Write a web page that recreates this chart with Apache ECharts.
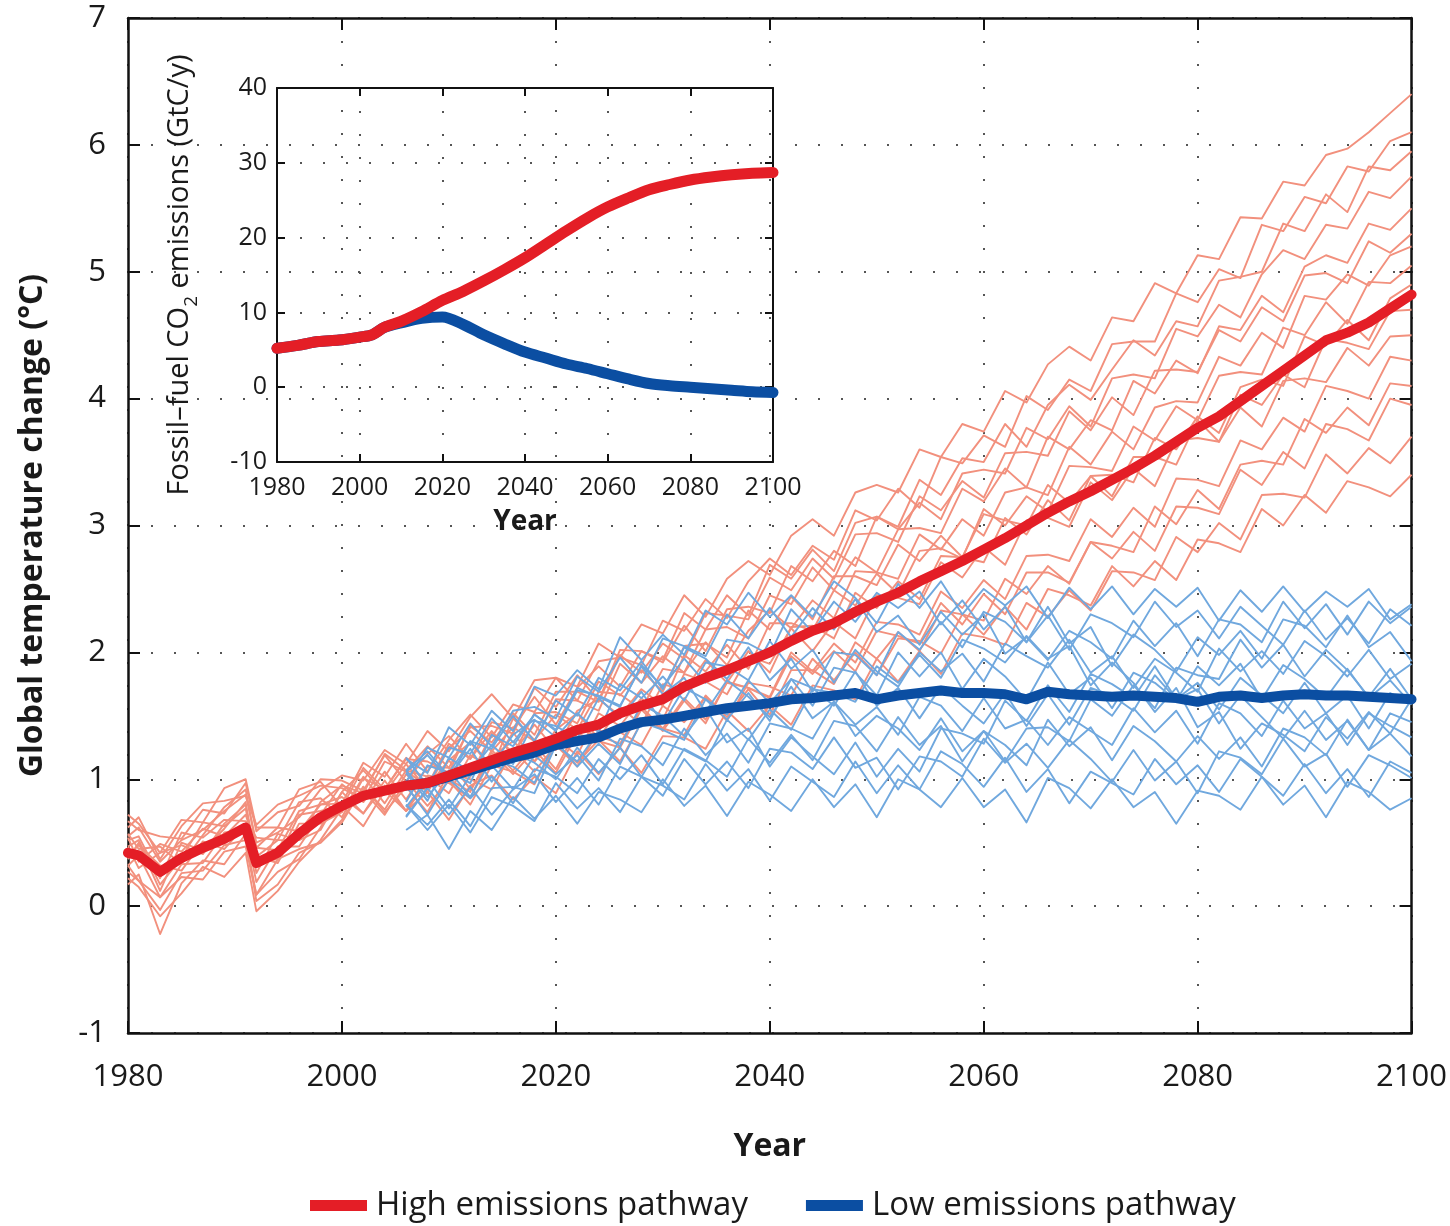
<!DOCTYPE html>
<html>
<head>
<meta charset="utf-8">
<script src="https://cdn.jsdelivr.net/npm/echarts@6/dist/echarts.min.js"></script>
<style>
html,body{margin:0;padding:0;background:#fff;}
#chart{width:1450px;height:1226px;}
</style>
</head>
<body>
<div id="chart"></div>
<script>
// ---------------- DATA ----------------
const redYears = [1980,1981,1983,1985,1987,1989,1991,1992,1994,1996,1998,
  2000,2002,2004,2006,2008,2010,2012,2014,2016,2018,2020,2022,2024,2026,2028,2030,
  2032,2034,2036,2038,2040,2042,2044,2046,2048,2050,2052,2054,2056,2058,2060,
  2062,2064,2066,2068,2070,2072,2074,2076,2078,2080,2082,2084,2086,2088,2090,
  2092,2094,2096,2098,2100];

const redMean = [.42,.40,.27,.38,.46,.53,.62,.34,.42,.57,.70,
  .79,.87,.91,.95,.97,1.03,1.09,1.15,1.21,1.26,
  1.32,1.39,1.43,1.52,1.58,1.63,1.73,1.80,1.86,1.93,
  2.00,2.09,2.17,2.23,2.32,2.40,2.47,2.56,2.64,2.72,
  2.81,2.90,3.00,3.10,3.19,3.27,3.36,3.45,3.55,3.66,
  3.77,3.86,3.98,4.10,4.22,4.34,4.46,4.52,4.60,4.71,4.82];

const redRuns = [
  [.55,.62,.35,.52,.60,.75,.88,.50,.58,.70,.92, 1.03,.99,1.23,1.12,1.38,1.22,1.49,1.67,1.48,1.78, 1.80,1.73,2.07,1.96,2.22,2.15,2.45,2.28,2.58,2.72, 2.61,2.92,3.05,2.92,3.26,3.32,3.26,3.60,3.54,3.80, 3.74,4.06,3.97,4.27,4.41,4.30,4.64,4.61,4.91,4.83, 5.13,5.10,5.43,5.42,5.71,5.68,5.92,5.97,6.10,6.25,6.40],
  [.57,.45,.47,.33,.56,.78,.92,.46,.44,.75,.80, .81,1.13,1.02,1.28,1.06,1.31,1.51,1.33,1.59,1.53, 1.80,1.62,1.93,1.96,1.90,2.25,2.17,2.42,2.27,2.56, 2.74,2.61,2.84,2.73,3.12,3.04,3.29,3.14,3.54,3.49, 3.71,3.62,4.02,3.91,4.15,4.06,4.43,4.45,4.45,4.83, 4.76,5.02,4.95,5.37,5.32,5.59,5.54,5.83,5.79,6.03,6.10],
  [.37,.50,.12,.50,.44,.61,.82,.26,.57,.52,.82, .95,.89,1.20,1.07,1.26,1.09,1.41,1.42,1.36,1.72, 1.57,1.82,1.62,2.02,2.01,1.94,2.31,2.18,2.45,2.29, 2.69,2.58,2.81,2.64,3.02,3.07,2.99,3.36,3.24,3.53, 3.50,3.80,3.62,3.95,4.11,3.99,4.23,4.46,4.34,4.61, 4.57,4.93,4.96,5.00,5.38,5.32,5.61,5.47,5.83,5.80,5.95],
  [.67,.60,.55,.53,.76,.73,.97,.59,.74,.79,1.00, .99,.91,1.19,.98,1.20,1.34,1.16,1.45,1.40,1.65, 1.43,1.72,1.89,1.73,2.01,1.92,2.21,2.01,2.34,2.36, 2.31,2.68,2.56,2.80,2.68,3.07,2.97,3.18,3.05,3.41, 3.44,3.41,3.77,3.68,3.94,3.78,4.16,4.19,4.16,4.55, 4.49,4.74,4.64,4.98,5.17,5.10,5.37,5.34,5.63,5.58,5.75],
  [.27,.20,-.03,.26,.28,.48,.52,.09,.27,.37,.62, .90,1.07,.89,1.12,.92,1.25,1.38,1.22,1.41,1.30, 1.63,1.62,1.54,1.91,1.76,1.97,1.84,2.18,2.20,2.11, 2.45,2.38,2.67,2.49,2.75,2.63,2.97,2.98,2.94,3.29, 3.19,3.45,3.30,3.70,3.60,3.83,3.75,4.14,4.04,4.30, 4.20,4.57,4.54,4.81,4.68,5.04,5.13,5.07,5.38,5.33,5.50],
  [.52,.55,.22,.58,.54,.68,.67,.54,.52,.82,.85, .70,1.01,.92,1.17,.94,1.15,1.29,1.09,1.48,1.31, 1.51,1.39,1.69,1.67,1.55,1.87,1.84,2.08,1.90,2.17, 2.33,2.19,2.41,2.27,2.64,2.63,2.58,2.93,2.81,3.05, 2.92,3.26,3.30,3.24,3.62,3.48,3.74,3.60,3.93,3.98, 3.97,4.33,4.26,4.52,4.40,4.81,4.78,4.98,4.89,5.13,5.20],
  [.32,.40,.07,.33,.34,.58,.60,.19,.47,.47,.72, .96,.82,1.06,.84,1.10,1.09,1.02,1.36,1.21,1.43, 1.23,1.54,1.63,1.50,1.71,1.58,1.98,1.85,2.06,1.87, 2.23,2.23,2.17,2.49,2.37,2.62,2.46,2.80,2.82,2.74, 3.13,3.00,3.23,3.11,3.47,3.46,3.43,3.78,3.67,3.94, 3.83,4.18,4.21,4.19,4.56,4.50,4.76,4.59,4.92,4.91,5.05],
  [.47,.30,.42,.48,.41,.65,.80,.39,.34,.65,.65, .74,1.02,.81,1.07,1.02,.89,1.19,1.09,1.37,1.14, 1.39,1.52,1.32,1.57,1.43,1.75,1.70,1.94,1.76,2.01, 1.84,2.20,2.21,2.11,2.47,2.35,2.56,2.42,2.76,2.75, 2.71,3.06,2.93,3.20,3.04,3.39,3.40,3.34,3.69,3.60, 3.86,3.73,4.09,4.15,4.10,4.49,4.42,4.62,4.46,4.79,4.90],
  [.17,.25,-.22,.18,.36,.33,.57,.04,.17,.42,.50, .68,.94,.76,1.04,.90,1.15,.92,1.18,1.30,1.14, 1.32,1.19,1.52,1.42,1.64,1.47,1.83,1.77,1.67,1.97, 1.91,2.19,2.01,2.24,2.11,2.45,2.43,2.38,2.71,2.59, 2.83,2.69,3.04,3.06,2.99,3.34,3.20,3.45,3.31,3.67, 3.69,3.66,4.03,3.95,4.19,4.09,4.47,4.44,4.39,4.69,4.70],
  [.62,.70,.37,.63,.81,.83,.87,.64,.80,.87,.95, .93,.84,1.14,1.06,.95,1.28,1.16,1.38,1.19,1.52, 1.53,1.44,1.77,1.66,1.86,1.69,2.05,2.07,1.96,2.33, 2.18,2.44,2.26,2.60,2.60,2.53,2.85,2.72,2.92,2.75, 3.09,3.04,3.00,3.32,3.18,3.39,3.23,3.54,3.54,3.48, 3.83,3.66,3.93,3.78,4.14,4.16,4.13,4.40,4.26,4.49,4.50],
  [.54,.35,.49,.43,.61,.55,.72,.46,.62,.59,.80, .86,.73,.99,.75,.98,.97,.85,1.21,1.04,1.23, 1.05,1.36,1.30,1.25,1.55,1.38,1.62,1.44,1.77,1.72, 1.65,2.00,1.85,2.07,1.92,2.24,2.22,2.14,2.48,2.35, 2.57,2.42,2.76,2.77,2.72,3.05,2.91,3.14,2.99,3.37, 3.36,3.31,3.67,3.60,3.85,3.74,4.10,4.06,4.00,4.33,4.30],
  [.22,.15,-.08,.10,.31,.23,.42,-.04,.12,.35,.52, .77,.91,.72,.99,.79,.99,.80,1.11,1.06,.96, 1.28,1.13,1.31,1.14,1.45,1.40,1.35,1.66,1.49,1.71, 1.51,1.86,1.86,1.75,2.08,1.95,2.16,2.01,2.33,2.30, 2.25,2.58,2.46,2.68,2.54,2.87,2.84,2.79,3.15,3.01, 3.28,3.13,3.48,3.51,3.48,3.84,3.73,3.93,3.79,4.12,4.10],
  [.47,.52,.17,.38,.66,.63,.77,.34,.37,.72,.75, .79,.63,.91,.75,.90,.68,.95,1.03,.84,1.02, .89,1.22,1.04,1.25,1.05,1.34,1.33,1.24,1.54,1.38, 1.58,1.43,1.74,1.70,1.63,1.95,1.77,2.01,1.83,2.15, 2.12,2.06,2.39,2.28,2.49,2.33,2.64,2.63,2.57,2.91, 2.79,3.02,2.89,3.24,3.25,3.22,3.56,3.41,3.61,3.49,3.70],
  [.32,.20,.07,.23,.21,.43,.47,.09,.37,.45,.50, .66,.94,.74,.94,.74,1.05,1.00,.92,1.23,1.06, 1.27,1.10,1.38,1.37,1.27,1.58,1.45,1.65,1.46,1.76, 1.73,1.66,1.95,1.78,2.00,1.82,2.11,2.09,1.99,2.30, 2.14,2.36,2.18,2.50,2.45,2.37,2.68,2.52,2.72,2.57, 2.89,2.86,2.79,3.13,3.00,3.24,3.10,3.35,3.30,3.23,3.40],
  [.72,.65,.42,.68,.66,.93,1.00,.62,.62,.92,.98, .78,1.09,.92,1.16,1.14,1.05,1.42,1.29,1.52,1.35, 1.69,1.69,1.61,1.98,1.84,2.07,1.95,2.31,2.29,2.26, 2.59,2.49,2.74,2.58,2.93,2.94,2.87,3.23,3.12,3.35, 3.22,3.57,3.58,3.55,3.90,3.75,4.01,3.87,4.22,4.23, 4.21,4.54,4.45,4.72,4.61,4.97,4.99,4.91,5.24,5.15,5.30],
  [.40,.48,.32,.28,.51,.45,.64,.39,.52,.52,.60, .90,.73,.95,.75,1.03,1.00,.90,1.23,1.07,1.27, 1.08,1.40,1.34,1.28,1.57,1.40,1.64,1.47,1.76,1.72, 1.64,1.97,1.83,2.01,1.85,2.17,2.13,2.07,2.39,2.22, 2.46,2.30,2.63,2.63,2.55,2.87,2.74,2.95,2.80,3.15, 3.14,3.09,3.44,3.32,3.58,3.45,3.80,3.76,3.67,4.00,3.95]
];

const blueYears = [2006,2008,2010,2012,2014,2016,2018,2020,2022,2024,2026,2028,2030,
  2032,2034,2036,2038,2040,2042,2044,2046,2048,2050,2052,2054,2056,2058,2060,
  2062,2064,2066,2068,2070,2072,2074,2076,2078,2080,2082,2084,2086,2088,2090,
  2092,2094,2096,2098,2100];

const blueMean = [.95,.97,1.02,1.07,1.12,1.17,1.21,1.27,1.30,1.33,
  1.40,1.45,1.47,1.50,1.53,1.56,1.58,1.60,1.63,1.64,
  1.66,1.68,1.63,1.66,1.68,1.70,1.68,1.68,1.67,1.63,
  1.69,1.67,1.66,1.65,1.66,1.65,1.64,1.61,1.65,1.66,
  1.64,1.66,1.67,1.66,1.66,1.65,1.64,1.63];

const blueRuns = [
  [1.16,1.05,1.41,1.27,1.54,1.38,1.73,1.66,1.86,1.71, 2.12,1.94,2.14,1.98,2.33,2.22,2.47,2.28,2.45,2.28, 2.56,2.43,2.23,2.54,2.35,2.56,2.30,2.50,2.37,2.52, 2.27,2.51,2.34,2.52,2.30,2.50,2.36,2.51,2.25,2.49, 2.32,2.52,2.32,2.48,2.36,2.50,2.26,2.38],
  [.98,1.25,1.17,1.44,1.26,1.54,1.57,1.48,1.81,1.69, 1.96,1.76,2.11,2.05,1.97,2.30,2.11,2.35,2.12,2.35, 2.18,2.42,2.16,2.29,2.06,2.32,2.14,2.30,1.99,2.12, 1.94,2.17,2.08,1.95,2.25,2.05,2.23,1.97,2.26,2.22, 2.08,2.40,2.19,2.38,2.14,2.40,2.23,2.36],
  [1.17,.95,1.25,1.20,1.48,1.29,1.51,1.39,1.72,1.65, 1.57,1.90,1.73,1.95,1.76,2.10,2.07,1.98,2.34,2.16, 2.40,2.24,2.47,2.35,2.48,2.22,2.41,2.18,2.36,2.08, 2.29,2.02,2.30,2.23,2.12,2.40,2.20,2.33,2.11,2.36, 2.21,2.06,2.33,2.10,2.27,2.07,2.34,2.21],
  [1.06,1.19,1.00,1.30,1.24,1.50,1.30,1.62,1.50,1.80, 1.70,1.93,1.71,2.04,1.95,1.79,2.04,1.78,1.95,1.69, 2.00,1.98,1.82,2.16,2.02,2.24,2.04,2.32,2.24,2.08, 2.36,2.07,2.20,1.89,2.14,2.02,1.85,2.12,1.98,2.17, 1.95,2.26,2.21,2.04,2.29,2.04,2.16,1.93],
  [.82,1.11,1.05,1.30,1.10,1.35,1.47,1.33,1.52,1.37, 1.75,1.64,1.81,1.62,1.92,1.89,1.78,2.09,1.87,2.02, 1.76,2.02,1.85,1.73,2.00,1.85,1.99,1.77,2.07,1.97, 1.88,2.10,1.84,1.97,1.72,1.95,1.84,1.69,2.03,1.85, 2.01,1.83,2.09,1.97,1.81,2.02,1.79,1.91],
  [1.05,.83,1.17,1.06,1.27,1.12,1.46,1.42,1.32,1.64, 1.48,1.69,1.44,1.72,1.63,1.51,1.78,1.60,1.79,1.58, 1.88,1.84,1.66,2.00,1.81,2.00,1.71,1.95,1.81,1.62, 1.92,1.67,1.80,1.56,1.84,1.76,1.62,1.89,1.74,1.91, 1.63,1.90,1.79,1.64,1.87,1.64,1.78,1.59],
  [1.07,.86,1.07,.86,1.16,1.10,.97,1.30,1.10,1.28, 1.12,1.45,1.39,1.31,1.63,1.47,1.68,1.46,1.79,1.72, 1.58,1.85,1.58,1.72,1.48,1.73,1.58,1.44,1.68,1.42, 1.67,1.43,1.72,1.66,1.54,1.82,1.63,1.76,1.55,1.80, 1.66,1.52,1.76,1.52,1.66,1.40,1.68,1.59],
  [.78,1.00,.77,1.03,1.11,.92,1.19,1.04,1.19,.99, 1.32,1.26,1.11,1.40,1.19,1.36,1.13,1.44,1.40,1.32, 1.61,1.43,1.57,1.35,1.65,1.58,1.38,1.64,1.40,1.47, 1.27,1.49,1.38,1.27,1.56,1.37,1.54,1.28,1.60,1.52, 1.34,1.62,1.40,1.52,1.27,1.52,1.42,1.33],
  [.95,.72,1.00,.85,1.02,.81,1.08,1.02,.89,1.16, 1.00,1.19,.96,1.24,1.15,1.02,1.32,1.13,1.35,1.15, 1.46,1.42,1.22,1.49,1.27,1.42,1.14,1.38,1.27,1.11, 1.47,1.26,1.41,1.15,1.42,1.30,1.14,1.34,1.16,1.33, 1.10,1.40,1.33,1.19,1.47,1.23,1.36,1.18],
  [.70,.93,.72,.94,.72,.92,1.04,.82,1.01,.80, 1.10,1.02,.87,1.16,.96,1.14,.93,1.24,1.21,1.08, 1.33,1.09,1.17,.92,1.18,1.14,1.02,1.32,1.13,1.28, 1.09,1.31,1.16,.98,1.23,.99,1.14,.89,1.22,1.17, 1.04,1.32,1.10,1.20,.94,1.19,1.11,1.01],
  [.80,.60,.80,.58,.86,.79,.67,.97,.77,.93, .74,1.02,.95,.84,1.12,.91,1.08,.83,1.10,.98, .86,1.14,.89,1.11,.92,1.22,1.12,.94,1.17,.90, 1.08,.81,1.06,.97,.88,1.16,.96,1.11,.90,1.16, 1.02,.87,1.12,.89,1.08,.86,1.14,1.05],
  [.60,.72,.45,.75,.60,.86,.69,.87,.65,.90, .84,.74,1.00,.79,.95,.71,.98,.88,.75,1.00, .78,.96,.70,1.00,.92,.78,1.01,.78,.92,.66, 1.01,.93,.77,1.00,.78,.90,.65,.91,.87,.76, 1.02,.80,.95,.70,.98,.90,.76,.85],
  [1.07,1.22,1.02,1.24,.98,1.21,1.13,1.00,1.25,1.05, 1.25,1.02,1.29,1.23,1.14,1.47,1.31,1.55,1.39,1.71, 1.68,1.61,1.89,1.76,1.98,1.80,2.10,2.03,1.92,2.13, 1.95,2.05,1.74,1.92,1.76,1.53,1.72,1.41,1.53,1.24, 1.44,1.35,1.22,1.49,1.32,1.53,1.36,1.63],
  [.71,.93,1.06,.97,1.35,1.26,1.51,1.38,1.70,1.66, 1.58,1.89,1.67,1.80,1.53,1.78,1.65,1.49,1.73,1.48, 1.61,1.34,1.50,1.40,1.23,1.48,1.22,1.38,1.14,1.40, 1.41,1.30,1.63,1.50,1.74,1.56,1.88,1.82,1.79,2.10, 1.88,2.06,1.81,2.02,1.86,1.65,1.87,1.63],
  [.80,.64,.84,.63,.93,.94,.89,1.27,1.14,1.38, 1.26,1.59,1.50,1.34,1.56,1.29,1.40,1.10,1.33,1.18, 1.04,1.29,1.02,1.24,1.06,1.40,1.36,1.28,1.62,1.46, 1.74,1.53,1.83,1.75,1.64,1.89,1.63,1.71,1.44,1.66, 1.49,1.32,1.54,1.31,1.46,1.23,1.52,1.45]
];

// inset: fossil-fuel CO2 emissions (GtC/y)
const insetYears = [1980,1985,1990,1995,2000,2003,2006,2010,2015,2020,2025,2030,2035,
  2040,2045,2050,2055,2060,2065,2070,2075,2080,2085,2090,2095,2100];
const insetHigh = [5.2,5.6,6.1,6.3,6.7,7.0,8.0,8.8,10.1,11.6,12.8,14.2,15.7,
  17.3,19.1,20.9,22.6,24.1,25.3,26.4,27.1,27.7,28.1,28.4,28.6,28.7];
const insetLow = [5.2,5.6,6.1,6.3,6.7,7.0,8.0,8.6,9.2,9.4,8.4,7.0,5.8,
  4.7,3.9,3.1,2.5,1.8,1.1,0.5,0.2,0.0,-0.2,-0.4,-0.6,-0.7];

const legendNames = ['High emissions pathway','Low emissions pathway'];

// ---------------- STYLE ----------------
const FONT = '"Open Sans", "Noto Sans", sans-serif';
const INK = '#1a1a1a';
const RED_THIN = '#F2907D', BLUE_THIN = '#70A8DE';
const RED_THICK = '#E41E26', BLUE_THICK = '#0B4EA2';

const pairs = (xs, ys) => ys.map((v, i) => [xs[i], v]);
const plain = v => String(v);

const series = [];
redRuns.forEach((run, k) => series.push({
  type: 'line', name: 'red run ' + (k + 1), xAxisIndex: 0, yAxisIndex: 0,
  data: pairs(redYears, run), symbol: 'none', silent: true, z: 2,
  lineStyle: { color: RED_THIN, width: 1.9, join: 'round' }
}));
blueRuns.forEach((run, k) => series.push({
  type: 'line', name: 'blue run ' + (k + 1), xAxisIndex: 0, yAxisIndex: 0,
  data: pairs(blueYears, run), symbol: 'none', silent: true, z: 3,
  lineStyle: { color: BLUE_THIN, width: 1.9, join: 'round' }
}));
series.push({
  type: 'line', name: legendNames[1], xAxisIndex: 0, yAxisIndex: 0,
  data: pairs(blueYears, blueMean), symbol: 'none', z: 4, color: BLUE_THICK,
  itemStyle: { color: BLUE_THICK },
  lineStyle: { color: BLUE_THICK, width: 10, join: 'round', cap: 'round' }
});
series.push({
  type: 'line', name: legendNames[0], xAxisIndex: 0, yAxisIndex: 0,
  data: pairs(redYears, redMean), symbol: 'none', z: 5, color: RED_THICK,
  itemStyle: { color: RED_THICK },
  lineStyle: { color: RED_THICK, width: 10, join: 'round', cap: 'round' }
});
series.push({
  type: 'line', name: 'inset low', xAxisIndex: 2, yAxisIndex: 2,
  data: pairs(insetYears, insetLow), symbol: 'none', z: 6, smooth: 0.3,
  lineStyle: { color: BLUE_THICK, width: 11, join: 'round', cap: 'round' }
});
series.push({
  type: 'line', name: 'inset high', xAxisIndex: 2, yAxisIndex: 2,
  data: pairs(insetYears, insetHigh), symbol: 'none', z: 7, smooth: 0.3,
  lineStyle: { color: RED_THICK, width: 11, join: 'round', cap: 'round' }
});

const dotted = { color: '#555', width: 2, type: [2, 21] };
function xAx(grid, pos, main, extra) {
  return Object.assign({
    gridIndex: grid, type: 'value', min: 1980, max: 2100, interval: 20, position: pos,
    axisLine: { show: true, onZero: false, lineStyle: { color: '#111', width: main ? 2.5 : 2 } },
    axisTick: { show: true, inside: true, length: main ? 12 : 8, lineStyle: { color: '#111', width: 2 } },
    axisLabel: { show: false },
    splitLine: { show: false }
  }, extra || {});
}
function yAx(grid, pos, main, min, max, itv, extra) {
  return Object.assign({
    gridIndex: grid, type: 'value', min: min, max: max, interval: itv, position: pos,
    axisLine: { show: true, onZero: false, lineStyle: { color: '#111', width: main ? 2.5 : 2 } },
    axisTick: { show: true, inside: true, length: main ? 12 : 8, lineStyle: { color: '#111', width: 2 } },
    axisLabel: { show: false },
    splitLine: { show: false }
  }, extra || {});
}

const option = {
  backgroundColor: '#fff',
  animation: false,
  textStyle: { fontFamily: FONT },
  grid: [
    { left: 128, top: 18, width: 1284, height: 1015 },
    { left: 277, top: 88, width: 496, height: 374 }
  ],
  legend: {
    data: legendNames, left: 305, top: 1184, icon: 'rect',
    itemWidth: 57, itemHeight: 11, itemGap: 58, selectedMode: false,
    textStyle: { fontSize: 33, color: INK, fontFamily: FONT, padding: [0, 0, 0, 4] }
  },
  xAxis: [
    xAx(0, 'bottom', true, {
      axisLabel: { show: true, fontSize: 31, color: INK, margin: 29, fontFamily: FONT, formatter: plain },
      splitLine: { show: true, lineStyle: dotted },
      name: 'Year', nameLocation: 'middle', nameGap: 98,
      nameTextStyle: { fontSize: 32, fontWeight: 'bold', color: INK, fontFamily: FONT }
    }),
    xAx(0, 'top', true),
    xAx(1, 'bottom', false, {
      axisLabel: { show: true, fontSize: 25, color: INK, margin: 13, fontFamily: FONT, formatter: plain },
      splitLine: { show: true, lineStyle: dotted },
      name: 'Year', nameLocation: 'middle', nameGap: 46,
      nameTextStyle: { fontSize: 28, fontWeight: 'bold', color: INK, fontFamily: FONT }
    }),
    xAx(1, 'top', false)
  ],
  yAxis: [
    yAx(0, 'left', true, -1, 7, 1, {
      axisLabel: { show: true, fontSize: 31, color: INK, margin: 22, fontFamily: FONT, formatter: plain },
      splitLine: { show: true, lineStyle: dotted },
      name: 'Global temperature change (°C)', nameLocation: 'middle', nameGap: 79,
      nameTextStyle: { fontSize: 32, fontWeight: 'bold', color: INK, fontFamily: FONT }
    }),
    yAx(0, 'right', true, -1, 7, 1),
    yAx(1, 'left', false, -10, 40, 10, {
      axisLabel: { show: true, fontSize: 25, color: INK, margin: 10, fontFamily: FONT, formatter: plain },
      splitLine: { show: true, lineStyle: dotted },
      name: '{a|Fossil–fuel CO}{b|2}{a| emissions (GtC/y)}', nameLocation: 'middle', nameGap: 83,
      nameTextStyle: {
        color: INK, fontFamily: FONT,
        rich: {
          a: { fontSize: 29, color: INK, fontFamily: FONT, lineHeight: 34, verticalAlign: 'bottom' },
          b: { fontSize: 19, color: INK, fontFamily: FONT, lineHeight: 34, verticalAlign: 'bottom', padding: [0, 0, -7, 0] }
        }
      }
    }),
    yAx(1, 'right', false, -10, 40, 10)
  ],
  series: series
};

const chart = echarts.init(document.getElementById('chart'), null, { renderer: 'canvas' });
chart.setOption(option);
</script>
</body>
</html>
